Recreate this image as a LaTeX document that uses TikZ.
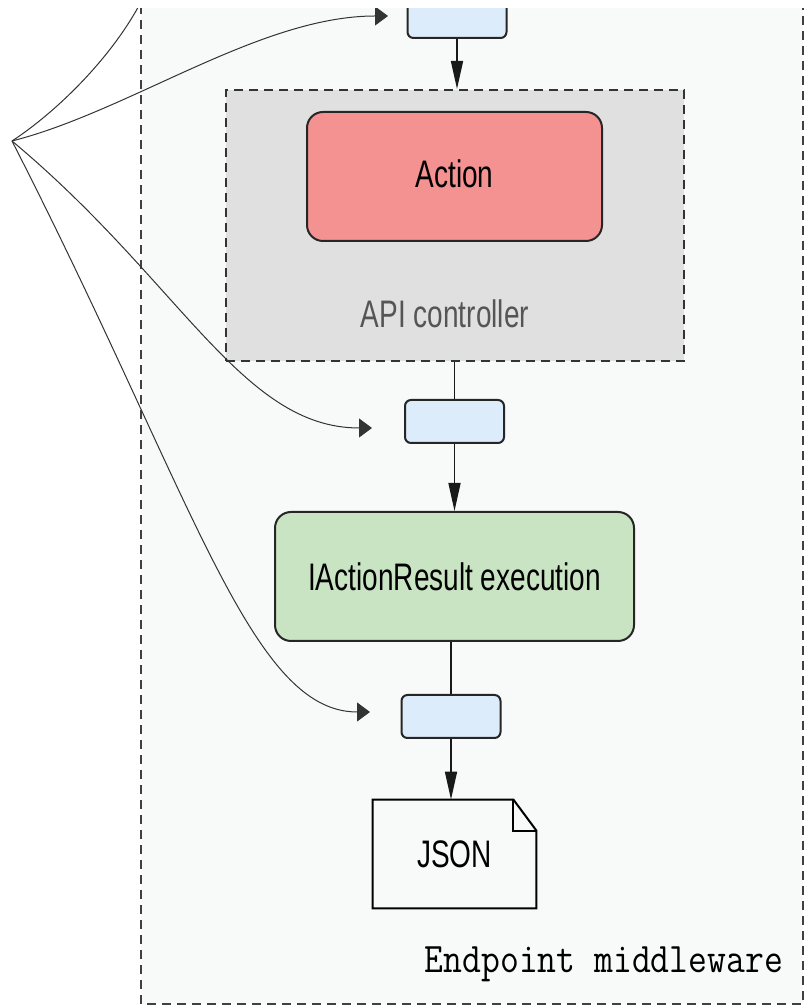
\documentclass[tikz,border=0pt]{standalone}
\usepackage{graphicx}
\usepackage{fontspec}
\setmainfont{Liberation Sans}
\usetikzlibrary{arrows.meta, positioning}
\definecolor{epBack}{HTML}{F8F9F9}
\definecolor{apiGrey}{HTML}{E0E0E0}
\definecolor{actRed}{HTML}{F49191}
\definecolor{resGreen}{HTML}{C9E4C3}
\definecolor{filtBlue}{HTML}{DDECFA}
\definecolor{lblGrey}{HTML}{555555}
\newcommand{\tallText}[1]{\scalebox{1}[1.37]{#1}}
\tikzset{
  boxtext/.style   = {font=\fontsize{14}{16}\selectfont},
  stagebox/.style  = {draw=black!85, line width=1pt, rounded corners=8pt, boxtext},
  filterbox/.style = {draw=black!85, line width=1pt, rounded corners=3pt, fill=filtBlue,
                      minimum width=49.5pt, minimum height=21.5pt, inner sep=0pt},
  groupbox/.style  = {draw=black!80, fill=apiGrey, line width=1pt,
                      dash pattern=on 4.5pt off 3pt},
  flow/.style      = {draw=black!90, line width=0.8pt},
  flowarrow/.style = {flow, -{Triangle[length=14pt, width=6pt]}},
  hook/.style      = {black!80, line width=0.5pt, -{Triangle[length=6.5pt, width=9.5pt]}},
}

\begin{document}
\begin{tikzpicture}[x=50pt, y=50pt]
  \useasboundingbox (0,0) rectangle (8.04,10.06);
  \clip (0,0) rectangle (8.04,9.97);
  % endpoint middleware region
  \draw[fill=epBack, draw=black!75, line width=0.9pt, dash pattern=on 4.5pt off 3pt]
    (1.41,0.02) rectangle (8.03,10.5);
  \node[font=\ttfamily\fontsize{18.3}{20}\selectfont, anchor=base east] (epLabel)
    at (7.90,0.33) {\scalebox{1}[1.15]{Endpoint middleware}};
  % API controller
  \node[groupbox, minimum width=229pt, minimum height=135.5pt] (api) at (4.55,7.805) {};
  \node[stagebox, fill=actRed, minimum width=147.5pt, minimum height=64.5pt] (action)
    at (4.545,8.295) {\raisebox{3pt}{\tallText{Action}}};
  \node[boxtext, text=lblGrey] (apiLabel) at (4.45,6.925) {\tallText{API controller}};
  % filters and stages
  \node[filterbox] (filt1) at (4.57,9.895) {};
  \node[filterbox] (filt2) at (4.545,5.845) {};
  \node[stagebox, fill=resGreen, minimum width=179.5pt, minimum height=64.5pt] (result)
    at (4.545,4.295) {\tallText{IActionResult execution}};
  \node[filterbox] (filt3) at (4.51,2.895) {};
  \node[boxtext, minimum width=81.5pt, minimum height=54pt] (json) at (4.545,1.52) {\tallText{JSON}};
  \draw[line width=1pt] (json.south west) -- (json.north west)
    -- ([xshift=-11.5pt]json.north east) -- ([yshift=-15.5pt]json.north east)
    -- (json.south east) -- cycle;
  \draw[line width=1pt] ([xshift=-11.5pt]json.north east)
    -- ([xshift=-11.5pt, yshift=-15.5pt]json.north east) -- ([yshift=-15.5pt]json.north east);
  % pipeline
  \draw[flowarrow] (filt1.south) -- (filt1.south |- api.north);
  \draw[flow] (api.south -| filt2.north) -- (filt2.north);
  \draw[flowarrow] (filt2.south) -- (filt2.south |- result.north);
  \draw[flow] (result.south -| filt3.north) -- (filt3.north);
  \draw[flowarrow] (filt3.south) -- (filt3.south |- json.north);
  % filter hooks
  \coordinate (src) at (0.12,8.65);
  \coordinate (up) at (1.45,10.12);
  \coordinate (in1) at (3.88,9.90);
  \coordinate (in2) at (3.72,5.78);
  \coordinate (in3) at (3.70,2.94);
  \draw[hook, -] (src) .. controls (0.55,8.93) and (1.15,9.5) .. (up);
  \draw[hook] (src) .. controls (1.3,8.95) and (2.6,9.90) .. (in1);
  \draw[hook] (src) .. controls (1.81,7.24) and (2.42,5.78) .. (in2);
  \draw[hook] (src) .. controls (1.94,5.09) and (2.50,2.94) .. (in3);
\end{tikzpicture}
\end{document}
